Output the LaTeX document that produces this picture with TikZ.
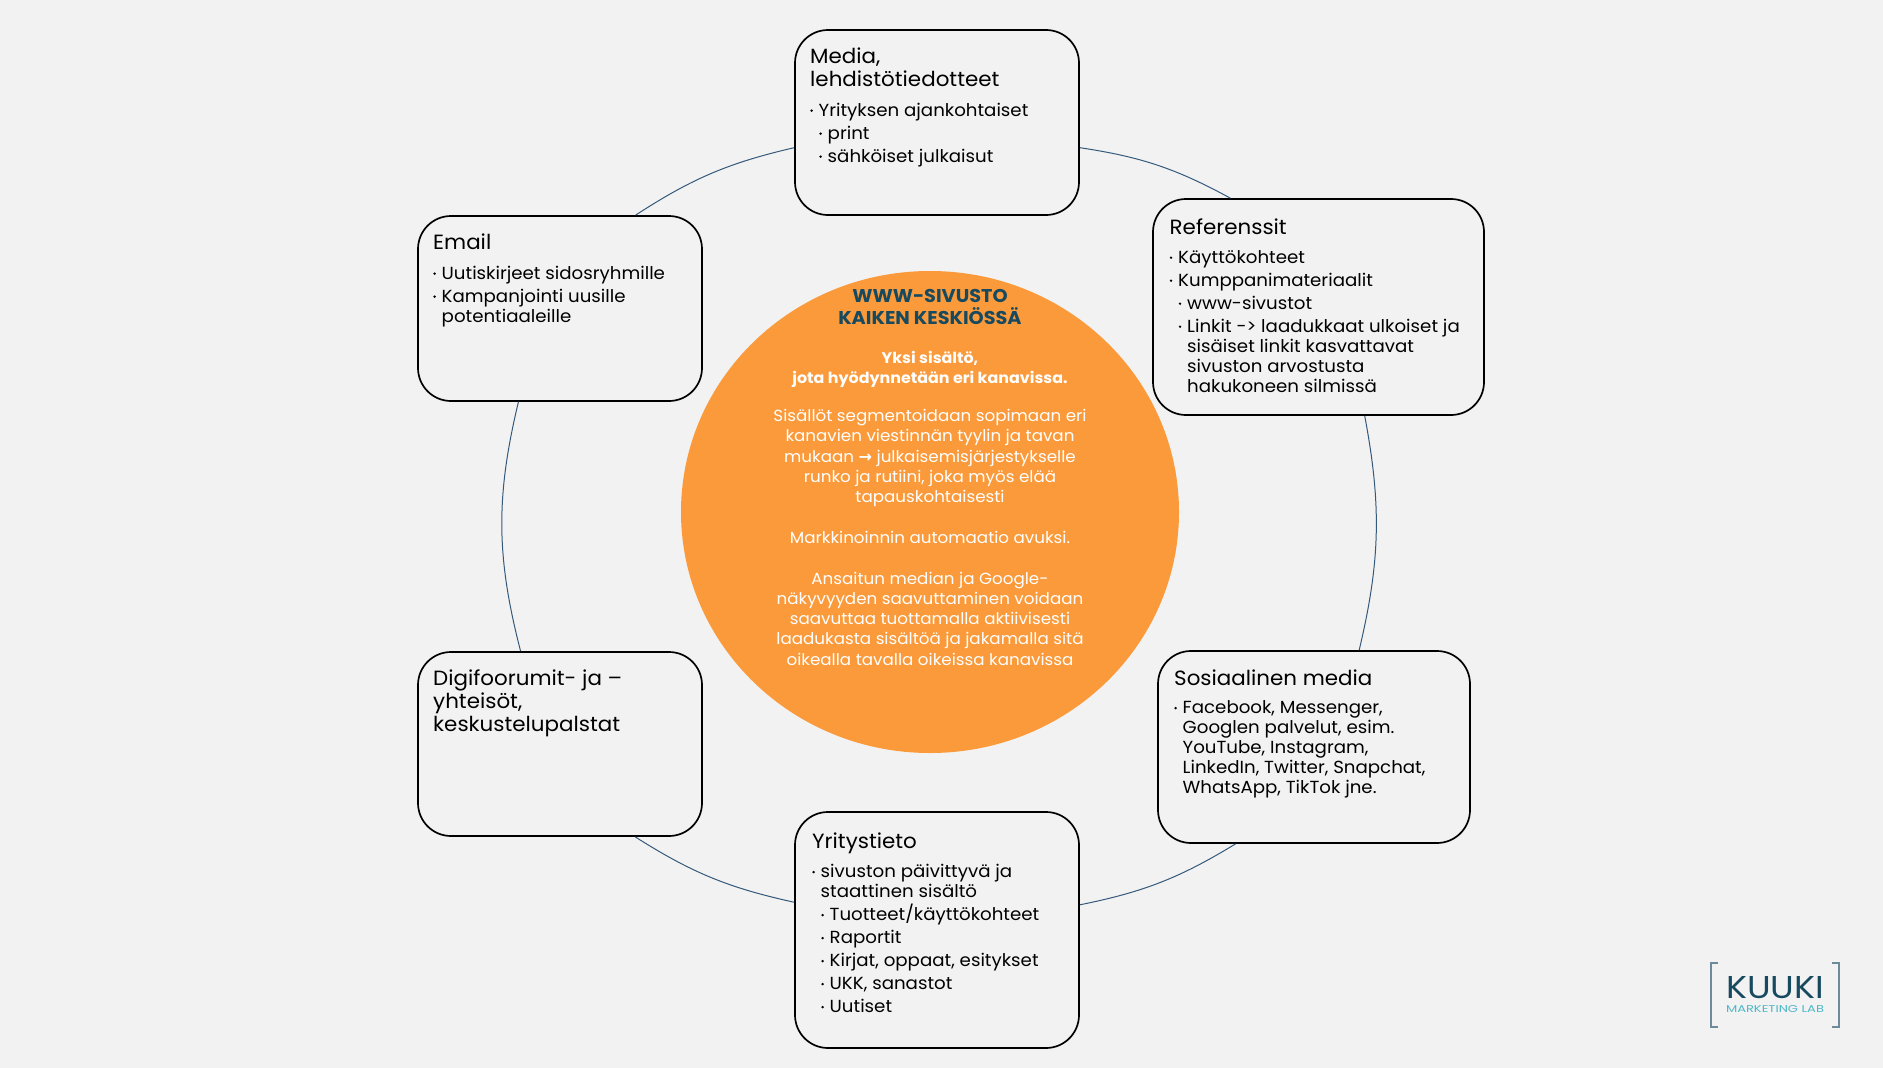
\documentclass[tikz,border=0pt]{standalone}
\usepackage{fontspec}
\usepackage{graphicx}
\setmainfont{Poppins}[FakeStretch=1.04]
\newfontfamily\arrowfont{DejaVu Sans}
\usetikzlibrary{shapes.geometric}
\definecolor{paper}{HTML}{F2F2F2}
\definecolor{ringline}{HTML}{35597A}
\definecolor{hubfill}{HTML}{FB9A3A}
\definecolor{navy}{HTML}{17495F}
\definecolor{logoteal}{HTML}{4DB8C8}
\definecolor{logogray}{HTML}{6D8A9B}
\setlength{\lineskiplimit}{-40pt}
\newcommand{\headline}{\fontsize{20.6}{20}\selectfont}
\newcommand{\hubhead}{\fontsize{18.5}{20.3}\selectfont\bfseries\color{navy}}
\newcommand{\hubbold}{\fontsize{15.3}{20.3}\selectfont\bfseries}
\newcommand{\dotmark}{\raisebox{4.4pt}{\tikz\fill (0,0) circle (1.35pt);}}
\newcommand{\itema}[1]{\makebox[8.5pt][l]{\dotmark}#1}
\newcommand{\itemb}[1]{\hspace*{9pt}\makebox[8.5pt][l]{\dotmark}#1}
\newcommand{\conta}[1]{\hspace*{8.5pt}#1}
\newcommand{\contb}[1]{\hspace*{17.5pt}#1}
\begin{document}
\begin{tikzpicture}[x=1pt,y=-1pt,
  channel/.style={draw=black,line width=1.7pt,rounded corners=33pt,fill=paper,inner sep=0pt},
  channeltext/.style={anchor=north west,align=left,inner sep=0pt,text=black,
    font=\fontsize{17.5}{20}\selectfont},
  ring/.style={draw=ringline,line width=1pt},
  hub/.style={ellipse,fill=hubfill,inner sep=0pt,minimum width=498pt,minimum height=482pt},
  hubtext/.style={anchor=north,align=center,inner sep=0pt,text=white,
    font=\fontsize{16.1}{20.3}\selectfont},
  logobracket/.style={draw=logogray,line width=1.6pt}
]
\fill[paper] (0,0) rectangle (1883,1068);
\node[channel,minimum width=284pt,minimum height=185pt] (media) at (937,122.5) {};
\node[channel,minimum width=331pt,minimum height=216pt] (referenssit) at (1318.5,307) {};
\node[channel,minimum width=284pt,minimum height=185pt] (email) at (560,308.5) {};
\node[channel,minimum width=312pt,minimum height=192pt] (some) at (1314,747) {};
\node[channel,minimum width=284pt,minimum height=184pt] (foorumit) at (560,744) {};
\node[channel,minimum width=284pt,minimum height=236pt] (yritystieto) at (937,930) {};
\node[hub] (keskus) at (930,512) {};
\draw[ring] (media.-10.8) to[bend left=10] (referenssit.129.6);
\draw[ring] (referenssit.-67.6) to[bend left=12] (some.65.9);
\draw[ring] (some.231.3) to[bend left=10] (yritystieto.10.2);
\draw[ring] (yritystieto.169.8) to[bend left=10] (foorumit.-51.6);
\draw[ring] (foorumit.113.5) to[bend left=14] (email.246);
\draw[ring] (email.51.7) to[bend left=10] (media.190.8);
\node[channeltext] (mediatext) at (810,47.5) {{\headline Media,}\\[3pt]
  {\headline lehdistötiedotteet}\\[10pt]
  \itema{Yrityksen ajankohtaiset}\\[3pt]
  \itemb{print}\\[3pt]
  \itemb{sähköiset julkaisut}};
\node[channeltext] (referenssittext) at (1169.5,218.5) {{\headline Referenssit}\\[9pt]
  \itema{Käyttökohteet}\\[3pt]
  \itema{Kumppanimateriaalit}\\[3pt]
  \itemb{www-sivustot}\\[3pt]
  \itemb{Linkit -> laadukkaat ulkoiset ja}\\
  \contb{sisäiset linkit kasvattavat}\\
  \contb{sivuston arvostusta}\\
  \contb{hakukoneen silmissä}};
\node[channeltext] (emailtext) at (433,233.5) {{\headline Email}\\[10pt]
  \itema{Uutiskirjeet sidosryhmille}\\[3pt]
  \itema{Kampanjointi uusille}\\
  \conta{potentiaaleille}};
\node[channeltext] (sometext) at (1174,669.5) {{\headline Sosiaalinen media}\\[8.5pt]
  \itema{Facebook, Messenger,}\\
  \conta{Googlen palvelut, esim.}\\
  \conta{YouTube, Instagram,}\\
  \conta{LinkedIn, Twitter, Snapchat,}\\
  \conta{WhatsApp, TikTok jne.}};
\node[channeltext] (foorumittext) at (433,669.5) {{\headline Digifoorumit- ja --}\\[3pt]
  {\headline yhteisöt,}\\[3pt]
  {\headline keskustelupalstat}};
\node[channeltext] (yritystietotext) at (812,833) {{\headline Yritystieto}\\[9pt]
  \itema{sivuston päivittyvä ja}\\
  \conta{staattinen sisältö}\\[3pt]
  \itemb{Tuotteet/käyttökohteet}\\[3pt]
  \itemb{Raportit}\\[3pt]
  \itemb{Kirjat, oppaat, esitykset}\\[3pt]
  \itemb{UKK, sanastot}\\[3pt]
  \itemb{Uutiset}};
\node[hubtext] (keskustext) at (930,289) {{\hubhead WWW-SIVUSTO}\\[1.7pt]
  {\hubhead KAIKEN KESKIÖSSÄ}\\[19pt]
  {\hubbold Yksi sisältö,}\\
  {\hubbold jota hyödynnetään eri kanavissa.}\\[17.4pt]
  Sisällöt segmentoidaan sopimaan eri\\
  kanavien viestinnän tyylin ja tavan\\
  mukaan {\arrowfont\bfseries →} julkaisemisjärjestykselle\\
  runko ja rutiini, joka myös elää\\
  tapauskohtaisesti\\[20.3pt]
  Markkinoinnin automaatio avuksi.\\[20.3pt]
  Ansaitun median ja Google-\\
  näkyvyyden saavuttaminen voidaan\\
  saavuttaa tuottamalla aktiivisesti\\
  laadukasta sisältöä ja jakamalla sitä\\
  oikealla tavalla oikeissa kanavissa};
\draw[logobracket] (1718,963) -- (1711,963) -- (1711,1027) -- (1718,1027);
\draw[logobracket] (1832,963) -- (1839,963) -- (1839,1027) -- (1832,1027);
\node[inner sep=0pt,text=navy] (logoname) at (1775,988) {\resizebox{98pt}{22pt}{KUUKI}};
\node[inner sep=0pt,text=logoteal] (logosub) at (1775,1009.5) {\resizebox{98pt}{7pt}{MARKETING LAB}};
\end{tikzpicture}
\end{document}
